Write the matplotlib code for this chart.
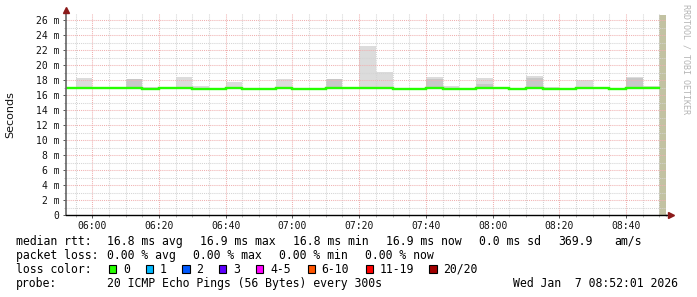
import matplotlib
matplotlib.use("Agg")
import matplotlib.pyplot as plt
import numpy as np
from matplotlib.ticker import FixedLocator, FuncFormatter
from matplotlib.patches import Rectangle

W, H = 697, 297

# ---------------- data ----------------
interval_starts = ["05:50", "05:55", "06:00", "06:05", "06:10", "06:15", "06:20", "06:25",
                   "06:30", "06:35", "06:40", "06:45", "06:50", "06:55", "07:00", "07:05",
                   "07:10", "07:15", "07:20", "07:25", "07:30", "07:35", "07:40", "07:45",
                   "07:50", "07:55", "08:00", "08:05", "08:10", "08:15", "08:20", "08:25",
                   "08:30", "08:35", "08:40", "08:45"]
# median rtt (ms)
median_ms = [16.96, 16.96, 16.96, 16.96, 16.96, 16.84, 16.96, 16.96,
             16.84, 16.84, 16.96, 16.84, 16.84, 16.96, 16.84, 16.84,
             16.96, 16.87, 16.87, 16.87, 16.86, 16.86, 16.96, 16.84,
             16.84, 16.87, 16.96, 16.84, 16.96, 16.84, 16.84, 16.96,
             16.96, 16.84, 16.96, 16.96]
# top of the smoke (max ping) ; None = no visible smoke
smoke_max = [None, 18.27, None, None, 18.2, 17.1, None, 18.4,
             17.2, None, 17.75, None, None, 18.1, None, None,
             18.2, None, 22.5, 19.07, None, None, 18.35, 17.2,
             None, 18.3, None, None, 18.57, 17.05, None, 18.04,
             None, None, 18.43, 17.23]
# top of the darker inner smoke band ; None = none
smoke_mid = [None, None, None, None, 18.2, None, None, None,
             None, None, None, None, None, None, None, None,
             18.2, None, None, None, None, None, 18.1, None,
             None, 17.47, None, None, 18.3, None, None, None,
             None, None, 18.3, None]
unknown_start, unknown_end = "08:50", "08:52:01"
x_start, x_end = "05:52:01", "08:52:01"

ytick_vals = list(range(0, 27, 2))
xtick_labels = ["06:00", "06:20", "06:40", "07:00", "07:20", "07:40", "08:00", "08:20", "08:40"]

legend_rows = [
    ("median rtt:", [(107.3, "16.8 ms avg"), (200.5, "16.9 ms max"), (293.3, "16.8 ms min"),
                     (386.2, "16.9 ms now"), (479.3, "0.0 ms sd"), (558.3, "369.9"), (614.0, "am/s")]),
    ("packet loss:", [(107.3, "0.00 % avg"), (193.3, "0.00 % max"), (279.3, "0.00 % min"),
                      (365.3, "0.00 % now")]),
]
loss_labels = ["0", "1", "2", "3", "4-5", "6-10", "11-19", "20/20"]
loss_colors = ["#26ff00", "#00b8ff", "#0059ff", "#5e00ff", "#ff00ff", "#ff5500", "#ff0000", "#a10000"]
loss_box_x = [109.0, 145.7, 182.3, 219.0, 256.0, 307.7, 366.0, 429.3]
probe_text = "20 ICMP Echo Pings (56 Bytes) every 300s"
date_text = "Wed Jan  7 08:52:01 2026"


def tmin(s):
    p = [int(v) for v in s.split(":")]
    m = p[0] * 60 + p[1]
    if len(p) > 2:
        m += p[2] / 60.0
    return m


starts = np.array([tmin(s) for s in interval_starts], dtype=float)
med = np.array(median_ms, dtype=float)
top = np.array([m if v is None else v for v, m in zip(smoke_max, median_ms)], dtype=float)
mid = np.array([m if v is None else v for v, m in zip(smoke_mid, median_ms)], dtype=float)

# ---------------- figure ----------------
fig = plt.figure(figsize=(W / 100, H / 100), dpi=100, facecolor="white")
ax_left, ax_right = 65.7, 666.1
ax_bot, ax_top = 215.0, 12.5
ax = fig.add_axes([ax_left / W, (H - ax_bot) / H, (ax_right - ax_left) / W, (ax_bot - ax_top) / H])
ax.set_facecolor("white")

x0, x1 = tmin(x_start), tmin(x_end)
ax.set_xlim(x0, x1)
ax.set_ylim(0, 27)

# smoke
ax.bar(starts, top - med, bottom=med, width=5, align="edge", color="#dcdcdc", linewidth=0, zorder=1)
ax.bar(starts, mid - med, bottom=med, width=5, align="edge", color="#c8c8c8", linewidth=0, zorder=1.1)
# unknown area
ax.bar([tmin(unknown_start)], [26.65], width=tmin(unknown_end) - tmin(unknown_start), align="edge",
       color="#c2c2a2", linewidth=0, zorder=1.2)
# median line
xs = np.append(starts, starts[-1] + 5)
ys = np.append(med, med[-1])
ax.step(xs, ys, where="post", color="#26ff00", linewidth=1.7, zorder=3, solid_joinstyle="miter")

# grid
ax.yaxis.set_major_locator(FixedLocator(ytick_vals))
ax.yaxis.set_minor_locator(FixedLocator(list(range(1, 27, 2))))
xt = [tmin(s) for s in xtick_labels]
ax.xaxis.set_major_locator(FixedLocator(xt))
ax.xaxis.set_minor_locator(FixedLocator(list(np.arange(355, 532, 5))))
dash = (0, (1.0, 1.0))
ax.grid(which="major", axis="both", color="#f0b0b0", linestyle=dash, linewidth=0.75, zorder=2.5)
ax.grid(which="minor", axis="both", color="#d4d4d4", linestyle=dash, linewidth=0.75, zorder=2.4)
ax.set_axisbelow(False)

ax.yaxis.set_major_formatter(FuncFormatter(lambda v, p: "0" if v == 0 else f"{int(v)} m"))
ax.set_xticklabels(xtick_labels)

mono = "DejaVu Sans Mono"
ax.tick_params(axis="both", which="major", labelsize=7, length=2.5, width=0.7, color="#555555", pad=2)
ax.tick_params(axis="both", which="minor", length=1.5, width=0.5, color="#999999")
for lab in ax.get_xticklabels() + ax.get_yticklabels():
    lab.set_family(mono)
    lab.set_color("#111111")
ax.tick_params(axis="x", pad=2)

for s in ["top", "right"]:
    ax.spines[s].set_visible(False)
ax.spines["left"].set_color("#666666")
ax.spines["left"].set_linewidth(1.2)
ax.spines["bottom"].set_color("black")
ax.spines["bottom"].set_linewidth(1.0)
ax.spines["left"].set_zorder(4)
ax.spines["bottom"].set_zorder(4)

# axis extensions and arrows
ax.plot([x1, x1 + 1.2], [0, 0], color="black", lw=1.0, clip_on=False, zorder=4)
ax.plot([x1 + 1.5], [0], marker=">", color="#8b1a1a", markersize=4, clip_on=False, zorder=5)
ax.plot([x0], [27.35], marker="^", color="#8b1a1a", markersize=4, clip_on=False, zorder=5)


def fx(x):
    return x / W


def fy(y):
    return 1 - y / H


fig.text(fx(10), fy(114.5), "Seconds", rotation=90, ha="center", va="center",
         fontsize=8, family="DejaVu Sans", color="#111111")
fig.text(fx(686), fy(4), "RRDTOOL / TOBI OETIKER", rotation=270, ha="center", va="top",
         fontsize=6, family=mono, color="#b4b4b4")

fs = 8.3
baselines = [245.0, 259.0, 272.6, 287.0]
for (label, items), yb in zip(legend_rows, baselines[:2]):
    fig.text(fx(16), fy(yb), label, fontsize=fs, family=mono, va="baseline", color="black")
    for x, t in items:
        fig.text(fx(x), fy(yb), t, fontsize=fs, family=mono, va="baseline", color="black")

fig.text(fx(16), fy(baselines[2]), "loss color:", fontsize=fs, family=mono, va="baseline", color="black")
for bx, c, lab in zip(loss_box_x, loss_colors, loss_labels):
    fig.patches.append(Rectangle((fx(bx), fy(272.8)), 7.4 / W, 7.4 / H, transform=fig.transFigure,
                                 facecolor=c, edgecolor="black", linewidth=0.8))
    fig.text(fx(bx + 14.0), fy(baselines[2]), lab, fontsize=fs, family=mono, va="baseline", color="black")

fig.text(fx(16), fy(baselines[3]), "probe:", fontsize=fs, family=mono, va="baseline", color="black")
fig.text(fx(107.3), fy(baselines[3]), probe_text, fontsize=fs, family=mono, va="baseline", color="black")
fig.text(fx(513.3), fy(baselines[3]), date_text, fontsize=fs, family=mono, va="baseline", color="black")

fig.savefig("out.png", dpi=100, facecolor="white")
